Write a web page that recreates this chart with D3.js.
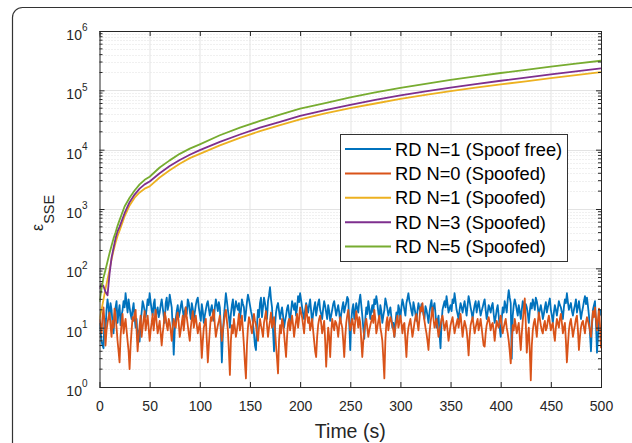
<!DOCTYPE html>
<html>
<head>
<meta charset="utf-8">
<script src="https://cdn.jsdelivr.net/npm/d3@7"></script>
<style>
  body { margin: 0; background: #fff; }
  svg { display: block; font-family: Arial, "Liberation Sans", sans-serif; }
  .grid-major { stroke: #e3e3e3; stroke-width: 1; }
  .grid-minor { stroke: #e1e1e1; stroke-width: 1; stroke-dasharray: 1,2; }
  .tick text { font-size: 14px; fill: #262626; }
</style>
</head>
<body>
<div id="chart"></div>
<script>

/* growing error curves (spoofed, N = 1, 3, 5) */
var growTime = [0, 2, 4, 6, 8, 10, 12, 14, 16, 18, 20, 25, 30, 35, 40, 45, 50, 60, 70, 80, 90, 100,
	120, 140, 160, 180, 200, 225, 250, 275, 300, 325, 350, 375, 400, 425, 450, 475, 500];

var spoofedN1 = [14, 20, 30, 45, 65, 95, 140, 200, 270, 350, 430, 750, 1150, 1550, 1900, 2200, 2400,
	3400, 4500, 5800, 7200, 8500, 11800, 15800, 20500, 26000, 32500, 41000, 50000, 60000, 72000,
	84000, 97000, 111000, 126000, 142000, 160000, 180000, 203000];

var spoofedN3 = [45, 55, 50, 40, 35, 80, 150, 220, 320, 420, 500, 850, 1300, 1750, 2200, 2600, 2900,
	4000, 5300, 6700, 8200, 9800, 13500, 18000, 23500, 29500, 37000, 46500, 57000, 69000, 82000,
	96000, 111000, 127000, 145000, 164000, 185000, 208000, 235000];

var spoofedN5 = [27, 45, 70, 95, 130, 180, 240, 320, 400, 520, 650, 1100, 1550, 2050, 2600, 3100, 3500,
	5000, 6600, 8500, 10400, 12300, 17500, 23500, 30500, 39000, 49000, 61000, 76000, 92000, 110000,
	128000, 150000, 172000, 196000, 222000, 250000, 282000, 315000];

/* noisy curves, one value per second from 0 to 500 */
var noiseTime = d3.range(0, 501);

var spoofFreeN1 = [
	/* 0 - 124 s */
	12, 9, 6, 5, 4.5, 14, 9, 20, 30, 22, 14, 26, 20, 12, 8, 16, 22, 28, 12, 18,
	24, 11, 16, 20, 28, 22, 38, 26, 18, 30, 22, 17, 14, 20, 26, 15, 10, 14, 6, 9,
	5.8, 12, 18, 28, 24, 19, 15, 21, 30, 24, 38, 27, 20, 16, 25, 30, 14, 19, 22, 15,
	18, 24, 30, 22, 16, 12, 26, 32, 20, 24, 36, 28, 22, 10, 3.5, 9, 14, 19, 24, 15,
	18, 23, 28, 20, 15, 19, 22, 17, 30, 26, 19, 14, 26, 21, 14, 18, 24, 29, 32, 22,
	17, 13, 25, 19, 12, 16, 20, 25, 28, 21, 16, 20, 24, 17, 13, 22, 30, 24, 19, 27,
	22, 9, 2.6, 8, 15,
	/* 125 - 250 s */
	24, 38, 28, 20, 15, 10, 17, 24, 30, 16, 21, 28, 23, 20, 26, 14, 19, 30, 25, 22,
	13, 18, 27, 36, 30, 24, 19, 16, 12, 8, 5, 4.2, 11, 20, 15, 26, 32, 15, 22, 32,
	26, 20, 14, 28, 35, 48, 30, 22, 9, 4, 11, 18, 23, 26, 19, 14, 18, 22, 16, 10,
	13, 16, 21, 24, 17, 12, 19, 28, 24, 20, 26, 16, 22, 34, 27, 38, 29, 22, 17, 14,
	20, 26, 22, 18, 24, 30, 19, 12, 17, 22, 27, 16, 21, 26, 30, 20, 17, 14, 21, 28,
	23, 18, 14, 24, 19, 13, 16, 20, 25, 28, 21, 16, 20, 24, 18, 12, 17, 22, 27, 18,
	22, 26, 33, 30, 12, 4.2,
	/* 251 - 376 s */
	13, 20, 25, 14, 19, 26, 21, 18, 28, 36, 24, 16, 10, 6.5, 14, 22, 17, 28, 21, 14,
	19, 24, 18, 30, 25, 34, 26, 18, 14, 24, 19, 12, 16, 20, 31, 26, 21, 16, 19, 22,
	15, 10, 12, 7, 12, 18, 13, 24, 20, 14, 22, 30, 25, 20, 16, 26, 31, 38, 28, 24,
	19, 16, 27, 22, 17, 13, 19, 26, 21, 18, 25, 22, 17, 14, 23, 20, 16, 12, 18, 24,
	29, 18, 22, 26, 17, 10, 13, 16, 8, 4.5, 12, 20, 24, 28, 22, 34, 25, 18, 21, 24,
	19, 30, 26, 38, 28, 20, 17, 14, 20, 26, 22, 18, 23, 28, 21, 16, 24, 34, 28, 22,
	18, 14, 19, 24, 28, 18,
	/* 377 - 500 s */
	23, 28, 21, 16, 19, 22, 26, 30, 20, 14, 18, 24, 21, 18, 23, 26, 17, 12, 15, 20,
	24, 16, 10, 7, 14, 22, 18, 28, 23, 18, 30, 43, 32, 26, 3, 16, 24, 30, 25, 20,
	16, 24, 19, 14, 20, 28, 23, 18, 25, 22, 17, 12, 19, 26, 21, 30, 25, 20, 32, 28,
	22, 16, 20, 24, 19, 14, 17, 22, 27, 18, 22, 26, 31, 20, 16, 12, 18, 24, 20, 16,
	21, 28, 24, 22, 18, 14, 22, 30, 26, 38, 27, 20, 23, 26, 19, 16, 20, 24, 30, 18,
	22, 28, 20, 14, 18, 22, 28, 34, 25, 32, 23, 16, 8, 4, 11, 20, 24, 28, 12, 3.8,
	7, 14, 20, 16];

var spoofedN0 = [
	/* 0 - 124 s */
	14, 11, 8, 15, 22, 12, 5, 9, 12, 15, 18, 11, 7, 13, 10, 21, 16, 10, 6, 4,
	2.6, 7, 12, 17, 8, 11, 14, 9, 6, 4, 2.0, 5, 9, 15, 13, 17, 20, 9, 4, 7,
	11, 16, 7, 10, 14, 19, 9, 12, 16, 10, 6, 9, 12, 17, 9, 14, 20, 12, 8, 10,
	13, 8, 5, 8, 11, 18, 15, 11, 9, 14, 12, 9, 6, 10, 14, 11, 10, 15, 18, 12,
	7, 9, 12, 16, 9, 14, 22, 15, 11, 8, 6, 10, 14, 19, 10, 13, 16, 11, 8, 10,
	12, 7, 3.1, 6, 10, 12, 14, 6, 2.6, 5, 9, 15, 13, 17, 20, 11, 7, 9, 11, 13,
	16, 10, 6, 9, 12,
	/* 125 - 250 s */
	17, 20, 13, 9, 4, 1.6, 6, 11, 8, 14, 10, 7, 9, 12, 17, 9, 12, 16, 9, 5,
	2.5, 1.4, 5, 10, 15, 13, 10, 8, 12, 17, 13, 11, 8, 6, 10, 14, 11, 9, 7, 12,
	15, 19, 11, 7, 10, 13, 18, 10, 12, 15, 9, 5, 3, 1.7, 6, 11, 8, 14, 12, 8,
	5, 3.2, 7, 12, 14, 9, 12, 16, 11, 7, 10, 13, 17, 10, 14, 22, 18, 15, 11, 8,
	14, 24, 16, 12, 15, 9, 11, 14, 9, 6, 4, 3.2, 7, 11, 14, 16, 12, 8, 10, 13,
	6, 2.2, 5, 10, 7, 3.2, 8, 14, 11, 9, 13, 12, 10, 7, 11, 15, 12, 10, 6, 3.2,
	7, 12, 16, 20, 13, 9,
	/* 251 - 376 s */
	11, 14, 11, 8, 13, 19, 14, 10, 15, 12, 6, 3.2, 6, 9, 12, 14, 10, 7, 9, 11,
	13, 16, 12, 20, 14, 8, 10, 13, 16, 10, 8, 6, 3, 1.4, 6, 12, 15, 9, 12, 15,
	13, 11, 9, 7, 10, 13, 16, 10, 12, 16, 12, 8, 11, 12, 6, 3.2, 7, 10, 12, 14,
	10, 7, 9, 12, 15, 17, 12, 9, 14, 22, 19, 26, 17, 13, 10, 8, 6, 4.2, 8, 12,
	16, 22, 14, 10, 12, 14, 10, 7, 9, 11, 14, 16, 12, 9, 11, 13, 9, 6, 8, 11,
	13, 15, 11, 8, 10, 12, 14, 10, 13, 17, 11, 7, 10, 13, 11, 9, 6, 3.4, 7, 11,
	13, 15, 11, 8, 10, 12,
	/* 377 - 500 s */
	14, 9, 11, 14, 10, 7, 5, 4.8, 8, 11, 13, 15, 12, 9, 11, 12, 9, 6, 9, 13,
	11, 10, 13, 16, 11, 8, 10, 12, 14, 10, 8, 6, 4, 2.5, 6, 11, 9, 14, 11, 8,
	10, 12, 7, 4.2, 8, 13, 20, 31, 12, 3.8, 7, 10, 4, 1.3, 5, 9, 12, 14, 10, 7,
	12, 18, 14, 11, 9, 8, 11, 13, 9, 10, 13, 16, 12, 9, 11, 12, 8, 6, 10, 14,
	12, 10, 14, 17, 12, 8, 10, 12, 6, 2.6, 5, 9, 12, 14, 10, 7, 9, 11, 14, 16,
	9, 4.2, 7, 10, 12, 13, 10, 8, 12, 15, 13, 11, 9, 7, 12, 19, 15, 22, 14, 9,
	14, 21, 11, 4.5];

var seriesNames = ["RD N=1 (Spoof free)", "RD N=0 (Spoofed)", "RD N=1 (Spoofed)",
	"RD N=3 (Spoofed)", "RD N=5 (Spoofed)"];
var seriesColors = ["#0072BD", "#D95319", "#EDB120", "#7E2F8E", "#77AC30"];

var xTicks = [0, 50, 100, 150, 200, 250, 300, 350, 400, 450, 500];
var yTicks = [1, 10, 100, 1000, 10000, 100000, 1000000];
var superDigits = ["0", "1", "2", "3", "4", "5", "6"];

var W = 632, H = 443;
var margin = {top: 31, right: 31, bottom: 56, left: 99.5};
var width = W - margin.left - margin.right;
var height = H - margin.top - margin.bottom;

var svg = d3.select("#chart").append("svg")
	.attr("width", W)
	.attr("height", H);

/* rounded figure frame, runs off the right and bottom edges */
svg.append("rect")
	.attr("x", 12.5).attr("y", 7.5)
	.attr("width", 700).attr("height", 500)
	.attr("rx", 10).attr("ry", 10)
	.attr("fill", "none")
	.attr("stroke", "#333")
	.attr("stroke-width", 1.2);

var g = svg.append("g")
	.attr("transform", "translate(" + margin.left + "," + margin.top + ")");

var x = d3.scaleLinear().domain([0, 500]).range([0, width]);
var y = d3.scaleLog().domain([1, 1e6]).range([height, 0]);

var minorY = y.ticks().filter(function(d){ return yTicks.indexOf(d) < 0; });

/* grid */
g.append("g").selectAll("line").data(minorY).enter().append("line")
	.attr("class", "grid-minor")
	.attr("x1", 0).attr("x2", width)
	.attr("y1", function(d){ return Math.round(y(d)) + 0.5; })
	.attr("y2", function(d){ return Math.round(y(d)) + 0.5; });

g.append("g").selectAll("line").data(yTicks.slice(1, -1)).enter().append("line")
	.attr("class", "grid-major")
	.attr("x1", 0).attr("x2", width)
	.attr("y1", function(d){ return Math.round(y(d)) + 0.5; })
	.attr("y2", function(d){ return Math.round(y(d)) + 0.5; });

g.append("g").selectAll("line").data(xTicks.slice(1, -1)).enter().append("line")
	.attr("class", "grid-major")
	.attr("y1", 0).attr("y2", height)
	.attr("x1", function(d){ return Math.round(x(d)) + 0.5; })
	.attr("x2", function(d){ return Math.round(x(d)) + 0.5; });

/* lines */
g.append("clipPath").attr("id", "plot-clip")
	.append("rect").attr("width", width).attr("height", height);

var lines = g.append("g").attr("clip-path", "url(#plot-clip)");

var noiseLine = d3.line()
	.x(function(d, i){ return x(noiseTime[i]); })
	.y(function(d){ return y(d); });

var growLine = d3.line()
	.x(function(d, i){ return x(growTime[i]); })
	.y(function(d){ return y(d); });

var allSeries = [
	{values: spoofFreeN1, line: noiseLine},
	{values: spoofedN0, line: noiseLine},
	{values: spoofedN1, line: growLine},
	{values: spoofedN3, line: growLine},
	{values: spoofedN5, line: growLine}
];

allSeries.forEach(function(s, i){
	lines.append("path")
		.datum(s.values)
		.attr("fill", "none")
		.attr("stroke", seriesColors[i])
		.attr("stroke-width", 1.8)
		.attr("stroke-linejoin", "round")
		.attr("d", s.line);
});

/* axes, MATLAB style box with inward ticks */
var xAxis = g.append("g")
	.attr("transform", "translate(0," + height + ")")
	.call(d3.axisBottom(x).tickValues(xTicks).tickSizeInner(-5).tickSizeOuter(0).tickPadding(12));

g.append("g")
	.call(d3.axisTop(x).tickValues(xTicks).tickSizeInner(-5).tickSizeOuter(0).tickFormat(""));

var yAxis = g.append("g")
	.call(d3.axisLeft(y).tickValues(yTicks).tickSizeInner(-5).tickSizeOuter(0).tickPadding(12));

g.append("g")
	.attr("transform", "translate(" + width + ",0)")
	.call(d3.axisRight(y).tickValues(yTicks).tickSizeInner(-5).tickSizeOuter(0).tickFormat(""));

/* minor y ticks on both sides */
g.append("g").selectAll("line").data(minorY).enter().append("line")
	.attr("x1", 0).attr("x2", 3)
	.attr("y1", function(d){ return y(d); }).attr("y2", function(d){ return y(d); })
	.attr("stroke", "#262626");

g.append("g").selectAll("line").data(minorY).enter().append("line")
	.attr("x1", width - 3).attr("x2", width)
	.attr("y1", function(d){ return y(d); }).attr("y2", function(d){ return y(d); })
	.attr("stroke", "#262626");

g.selectAll(".domain").remove();
g.selectAll(".tick line").attr("stroke", "#262626");

/* y labels as 10 with superscript */
yAxis.selectAll(".tick text")
	.attr("x", -12)
	.attr("dy", "0.6em")
	.each(function(d, i){
		var t = d3.select(this).text("10");
		t.append("tspan")
			.attr("font-size", "10px")
			.attr("dy", "-0.85em")
			.text(superDigits[i]);
	});

xAxis.selectAll(".tick text").attr("dy", "0.85em");

g.append("rect")
	.attr("x", 0.5).attr("y", 0.5)
	.attr("width", width).attr("height", height)
	.attr("fill", "none")
	.attr("stroke", "#262626")
	.attr("stroke-width", 1);

/* axis titles */
svg.append("text")
	.attr("x", margin.left + width / 2)
	.attr("y", 438)
	.attr("text-anchor", "middle")
	.attr("font-size", "19.5px")
	.attr("fill", "#262626")
	.text("Time (s)");

var yLab = svg.append("text")
	.attr("transform", "translate(43,231) rotate(-90)")
	.attr("fill", "#262626");
yLab.append("tspan").attr("font-size", "16px").text("\u03B5");
yLab.append("tspan").attr("font-size", "14.5px").attr("dy", 11).text("SSE");

/* legend */
var legend = svg.append("g").attr("transform", "translate(340,134)");

legend.append("rect")
	.attr("x", 0.5).attr("y", 0.5)
	.attr("width", 227).attr("height", 127)
	.attr("fill", "#fff")
	.attr("stroke", "#333")
	.attr("stroke-width", 1);

seriesNames.forEach(function(name, i){
	var rowY = 15 + i * 24.4;
	legend.append("line")
		.attr("x1", 5).attr("x2", 51)
		.attr("y1", rowY).attr("y2", rowY)
		.attr("stroke", seriesColors[i])
		.attr("stroke-width", 2);
	legend.append("text")
		.attr("x", 55).attr("y", rowY)
		.attr("dy", "0.36em")
		.attr("font-size", "18.3px")
		.attr("fill", "#000")
		.text(name);
});

</script>
</body>
</html>
